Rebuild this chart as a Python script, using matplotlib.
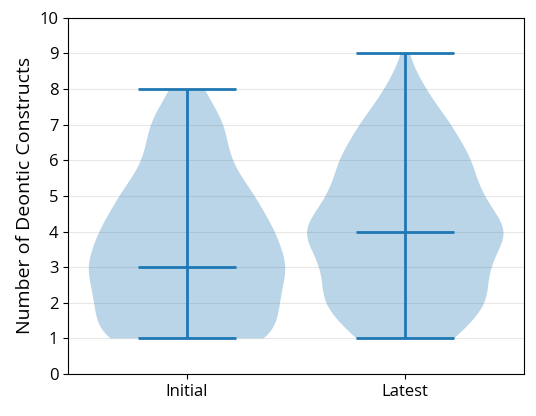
import matplotlib
matplotlib.use("Agg")
import matplotlib.pyplot as plt
import numpy as np

plt.rcParams["font.family"] = ["Open Sans", "DejaVu Sans"]

labels = ["Initial", "Latest"]
# number of documents with 1, 2, 3, ... deontic constructs
initial_values = [1, 2, 3, 4, 5, 6, 7, 8]
initial_counts = [52, 50, 57, 49, 38, 23, 22, 9]
latest_values = [1, 2, 3, 4, 5, 6, 7, 8, 9]
latest_counts = [29, 48, 45, 61, 42, 38, 26, 11, 1]

initial = np.repeat(initial_values, initial_counts)
latest = np.repeat(latest_values, latest_counts)

fig, ax = plt.subplots(figsize=(5.36, 4.16), dpi=100)
plt.subplots_adjust(left=0.127, right=0.978, top=0.957, bottom=0.101)

parts = ax.violinplot([initial, latest], widths=0.9, showmedians=True)
for key in ["cmins", "cmaxes", "cbars", "cmedians"]:
    parts[key].set_linewidth(2)

ax.set_xticks([1, 2])
ax.set_xticklabels(labels)
ax.tick_params(labelsize=12)
ax.set_ylim(0, 10)
ax.set_yticks(range(0, 11))
ax.set_ylabel("Number of Deontic Constructs", fontsize=14)
ax.yaxis.grid(True, alpha=0.3)
ax.set_axisbelow(True)

fig.savefig("out.png")
